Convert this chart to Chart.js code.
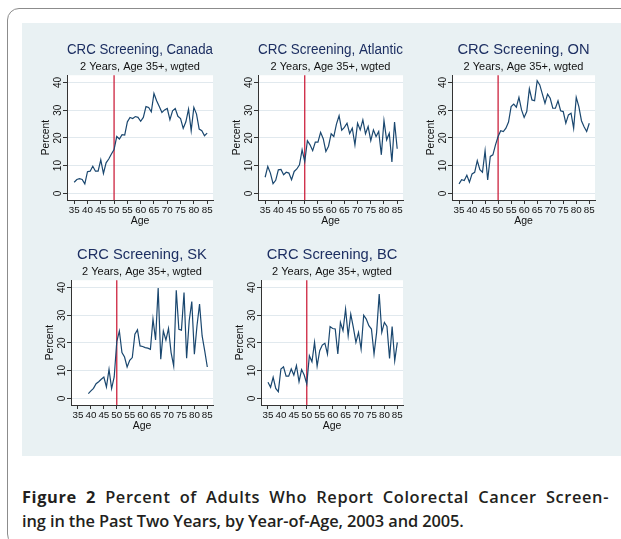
<!DOCTYPE html>
<html>
<head>
<meta charset="utf-8">
<script src="https://cdn.jsdelivr.net/npm/chart.js@4.4.1/dist/chart.umd.min.js"></script>
<style>
  body { margin: 0; width: 621px; height: 539px; overflow: hidden; background: #fff; position: relative; }
  #frame { position: absolute; left: 7px; top: 8px; width: 720px; height: 536px; border: 1px solid #8c8c8c; border-radius: 12px; }
  #panel { position: absolute; left: 22px; top: 23px; width: 620px; height: 433px; background: #e9f1f3; }
  canvas { position: absolute; }
  .cap { position: absolute; left: 22px; font-family: "Open Sans", sans-serif; font-size: 16.4px;
         font-weight: 600; line-height: 24px; color: #231f20; white-space: nowrap; }
  .cap b { font-weight: 700; }
  #cap1 { top: 485px; width: 587px; text-align: justify; text-align-last: justify; white-space: normal; letter-spacing: 0.6px; }
  #cap2 { top: 509px; letter-spacing: -0.1px; }
</style>
</head>
<body>
<div id="frame"></div>
<div id="panel"></div>
<div class="cap" id="cap1"><b>Figure 2</b> Percent of Adults Who Report Colorectal Cancer Screen-</div>
<div class="cap" id="cap2">ing in the Past Two Years, by Year-of-Age, 2003 and 2005.</div>

<script>
// year of age, one point per year
const ages = [35, 36, 37, 38, 39, 40, 41, 42, 43, 44, 45, 46, 47, 48, 49, 50, 51, 52, 53, 54,
  55, 56, 57, 58, 59, 60, 61, 62, 63, 64, 65, 66, 67, 68, 69, 70, 71, 72, 73, 74,
  75, 76, 77, 78, 79, 80, 81, 82, 83, 84, 85];

// percent screened in past 2 years
const canada = [4.0, 5.0, 5.3, 5.0, 3.4, 7.8, 8.0, 9.8, 8.0, 8.0,
  12.1, 7.2, 11.0, 12.4, 14.2, 15.8, 20.5, 19.6, 21.2, 21.0,
  25.8, 27.4, 27.0, 27.7, 27.4, 26.0, 27.4, 31.3, 31.0, 29.4,
  36.0, 33.4, 31.3, 29.2, 30.1, 30.6, 26.6, 29.8, 30.6, 27.8,
  27.0, 23.4, 25.8, 30.4, 22.6, 31.0, 28.6, 23.2, 22.6, 20.8, 21.7];

const atlantic = [5.8, 9.7, 7.3, 3.5, 4.7, 8.5, 8.6, 6.7, 7.6, 7.3,
  4.9, 7.9, 8.8, 10.3, 15.7, 11.5, 19.0, 17.5, 15.4, 18.5,
  18.5, 22.0, 19.7, 15.1, 17.0, 21.5, 20.5, 25.0, 28.0, 22.8,
  23.8, 25.3, 21.6, 23.5, 17.5, 25.3, 22.9, 26.5, 21.5, 24.1,
  19.0, 22.9, 20.5, 22.3, 13.9, 26.2, 19.3, 21.7, 11.3, 25.7, 16.1];

const ontario = [3.4, 4.9, 4.6, 6.5, 4.0, 7.0, 7.6, 11.8, 8.5, 7.6,
  15.4, 4.8, 13.3, 13.9, 17.5, 20.5, 22.6, 22.3, 23.5, 25.7,
  31.3, 32.2, 31.1, 34.6, 30.1, 27.4, 29.5, 37.7, 33.7, 33.4,
  40.6, 39.1, 35.8, 32.5, 35.8, 34.3, 30.7, 30.7, 33.4, 29.8,
  29.5, 25.3, 28.3, 28.9, 23.5, 34.6, 31.3, 26.2, 24.0, 22.3, 25.3];

// no SK data below age 39
const sask = [null, null, null, null, 1.7, 2.7, 3.6, 5.3, 6.0, 6.9,
  7.7, 4.1, 10.5, 3.5, 7.7, 20.5, 24.3, 16.5, 14.9, 11.3,
  13.7, 14.7, 23.1, 24.7, 18.9, 18.7, 18.3, 18.1, 17.7, 28.6,
  21.1, 39.8, 14.1, 24.3, 21.0, 25.2, 16.5, 11.7, 39.0, 24.9,
  24.6, 38.2, 14.5, 28.0, 34.9, 15.9, 26.1, 34.0, 22.5, 17.1, 11.3];

const bc = [5.8, 4.0, 7.6, 3.6, 2.4, 10.6, 11.4, 8.0, 8.0, 10.6,
  8.4, 11.8, 6.0, 10.4, 8.4, 5.2, 15.4, 13.2, 20.2, 11.6,
  17.2, 19.2, 19.9, 16.0, 25.9, 25.2, 25.0, 16.0, 27.4, 24.4,
  32.2, 22.6, 30.4, 25.6, 20.2, 23.8, 17.8, 30.0, 28.6, 26.2,
  25.0, 16.0, 23.8, 37.6, 23.8, 27.4, 25.9, 14.4, 25.9, 13.6, 20.2];

const titles = ["CRC Screening, Canada", "CRC Screening, Atlantic", "CRC Screening, ON",
  "CRC Screening, SK", "CRC Screening, BC"];
const subtitle = "2 Years, Age 35+, wgted";
const xTicks = [35, 40, 45, 50, 55, 60, 65, 70, 75, 80, 85];
const yTicks = [0, 10, 20, 30, 40];
const cutoffAge = 50;

// plot boxes on the page: left, top, right, bottom (pixels)
const boxes = [
  [67, 75, 213, 200],
  [258, 75, 403, 200],
  [452, 75, 595, 200],
  [71, 280, 213, 405],
  [261, 280, 403, 405]
];

const NAVY = "#1a476f";
const RED = "#c8102e";
const GRID = "#e1e9ee";
const AXIS = "#333";
const Y_W = 30, X_H = 28, TOP_H = 40, PAD_R = 4;

Chart.defaults.font.family = '"Liberation Sans", Arial, sans-serif';
Chart.defaults.color = "#111";

const plotBits = {
  id: "plotBits",
  beforeDraw(chart) {
    const a = chart.chartArea, ctx = chart.ctx;
    ctx.save();
    ctx.fillStyle = "#fff";
    ctx.fillRect(a.left, a.top, a.width, a.height);
    ctx.restore();
  },
  beforeDatasetsDraw(chart) {
    const a = chart.chartArea, ctx = chart.ctx;
    const x = chart.scales.x.getPixelForValue(cutoffAge);
    ctx.save();
    ctx.strokeStyle = RED;
    ctx.lineWidth = 1.2;
    ctx.beginPath();
    ctx.moveTo(x, a.top);
    ctx.lineTo(x, a.bottom);
    ctx.stroke();
    ctx.restore();
  }
};

function makePanel(title, values, box) {
  const [pl, pt, pr, pb] = box;
  const w = pr - pl + Y_W + PAD_R, h = pb - pt + TOP_H + X_H;
  const cv = document.createElement("canvas");
  cv.width = w; cv.height = h;
  cv.style.left = (pl - Y_W) + "px";
  cv.style.top = (pt - TOP_H) + "px";
  cv.style.width = w + "px";
  cv.style.height = h + "px";
  document.body.appendChild(cv);

  new Chart(cv, {
    type: "line",
    data: {
      datasets: [{
        data: ages.map((a, i) => ({ x: a, y: values[i] })),
        borderColor: NAVY,
        borderWidth: 1.2,
        pointRadius: 0,
        tension: 0,
        spanGaps: false
      }]
    },
    options: {
      responsive: false,
      animation: false,
      devicePixelRatio: 1,
      layout: { padding: { left: 0, right: PAD_R, top: 0, bottom: 0 } },
      plugins: {
        legend: { display: false },
        tooltip: { enabled: false },
        title: {
          display: true, text: title, fullSize: false, color: "#1d2f62",
          font: { size: 14.7, weight: "normal", lineHeight: 1.2 },
          padding: { top: 6.2, bottom: 0 }
        },
        subtitle: {
          display: true, text: subtitle, fullSize: false, color: "#111",
          font: { size: 11, lineHeight: 1.2 },
          padding: { top: 2, bottom: 1.2 }
        }
      },
      scales: {
        x: {
          type: "linear", min: 32.3, max: 87.2,
          afterBuildTicks: s => { s.ticks = xTicks.map(v => ({ value: v })); },
          afterFit: s => { s.height = X_H; s.paddingLeft = 0; s.paddingRight = 0; },
          ticks: { autoSkip: false, minRotation: 0, maxRotation: 0, padding: 0, font: { size: 9.8 }, callback: v => String(v) },
          grid: { drawOnChartArea: false, tickLength: 4, tickColor: AXIS },
          border: { color: AXIS, width: 1 },
          title: { display: true, text: "Age", font: { size: 10.5, lineHeight: 1.2 }, padding: { top: 0, bottom: 1.0 } }
        },
        y: {
          type: "linear", min: -2.4, max: 42.6,
          afterBuildTicks: s => { s.ticks = yTicks.map(v => ({ value: v })); },
          afterFit: s => { s.width = Y_W; s.paddingTop = 0; s.paddingBottom = 0; },
          ticks: { autoSkip: false, minRotation: 90, maxRotation: 90, crossAlign: "center", padding: -0.5, font: { size: 10 }, callback: v => String(v) },
          grid: { color: GRID, tickColor: AXIS, tickLength: 4 },
          border: { color: AXIS, width: 1 },
          title: { display: true, text: "Percent", font: { size: 10.3, lineHeight: 1.2 }, padding: { top: 2.6, bottom: 0 } }
        }
      }
    },
    plugins: [plotBits]
  });
}

const series = [canada, atlantic, ontario, sask, bc];
series.forEach((vals, i) => makePanel(titles[i], vals, boxes[i]));
</script>
</body>
</html>
